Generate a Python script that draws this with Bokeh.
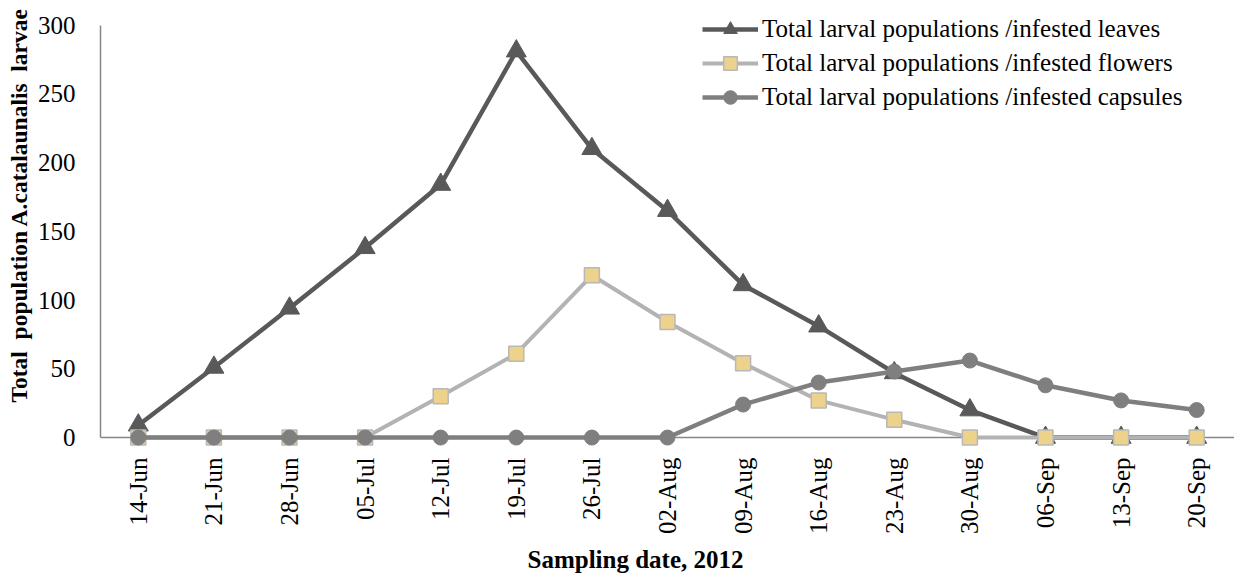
import math
from bokeh.plotting import figure
from bokeh.models import Range1d, FixedTicker, Legend, LegendItem, Span, Title
from bokeh.embed import file_html
from bokeh.resources import INLINE

# ---- data ----
dates = ["14-Jun", "21-Jun", "28-Jun", "05-Jul", "12-Jul", "19-Jul", "26-Jul",
         "02-Aug", "09-Aug", "16-Aug", "23-Aug", "30-Aug", "06-Sep", "13-Sep", "20-Sep"]
leaves = [9, 51, 94, 138, 184, 281, 210, 165, 111, 81, 47, 20, 0, 0, 0]
flowers = [0, 0, 0, 0, 30, 61, 118, 84, 54, 27, 13, 0, 0, 0, 0]
capsules = [0, 0, 0, 0, 0, 0, 0, 0, 24, 40, 48, 56, 38, 27, 20]
yticks = [0, 50, 100, 150, 200, 250, 300]
series_names = ["Total larval populations /infested leaves",
                "Total larval populations /infested flowers",
                "Total larval populations /infested capsules"]
y_title = "Total \u00a0population A.catalaunalis \u00a0larvae"
x_title = "Sampling date, 2012"
xs = list(range(len(dates)))

FONT = "Liberation Serif"
AXIS_GREY = "#868686"

p = figure(frame_width=1134, frame_height=438,
           x_range=Range1d(-0.5, 14.5), y_range=Range1d(-6.5, 312),
           output_backend="svg", toolbar_location=None,
           min_border_left=100, min_border_right=0,
           min_border_top=8, min_border_bottom=133)
p.xgrid.visible = False
p.ygrid.visible = False
p.outline_line_color = None
p.background_fill_color = "white"
p.border_fill_color = "white"

# y axis
ya = p.yaxis[0]
ya.ticker = FixedTicker(ticks=yticks)
ya.bounds = (0, 300)
ya.axis_line_color = AXIS_GREY
ya.axis_line_width = 1.5
ya.major_tick_line_color = None
ya.minor_tick_line_color = None
ya.major_tick_out = 0
ya.major_tick_in = 0
ya.minor_tick_out = 0
ya.major_label_text_font = FONT
ya.major_label_text_font_size = "25px"
ya.major_label_text_color = "black"
ya.major_label_standoff = 25

# x axis
xa = p.xaxis[0]
xa.ticker = FixedTicker(ticks=xs)
xa.major_label_overrides = {i: d for i, d in zip(xs, dates)}
xa.major_label_orientation = math.pi / 2
xa.axis_line_color = None
xa.major_tick_line_color = None
xa.minor_tick_line_color = None
xa.major_tick_out = 0
xa.major_tick_in = 0
xa.minor_tick_out = 0
xa.major_label_text_font = FONT
xa.major_label_text_font_size = "25px"
xa.major_label_text_color = "black"
xa.major_label_standoff = 11

zero_line = Span(location=0, dimension="width", line_color=AXIS_GREY,
                 line_width=1.5, level="underlay")
p.add_layout(zero_line)

# series
l1 = p.line(xs, leaves, line_color="#595959", line_width=4.5)
s1 = p.scatter(xs, leaves, marker="triangle", size=20,
               fill_color="#595959", line_color="#595959")
l2 = p.line(xs, flowers, line_color="#b3b3b3", line_width=4)
s2 = p.scatter(xs, flowers, marker="square", size=15,
               fill_color="#edd28c", line_color="#b8b8b8", line_width=1.5)
l3 = p.line(xs, capsules, line_color="#7f7f7f", line_width=4.5)
s3 = p.scatter(xs, capsules, marker="circle", size=15,
               fill_color="#7f7f7f", line_color="#7f7f7f")

legend = Legend(items=[
    LegendItem(label=series_names[0], renderers=[l1, s1]),
    LegendItem(label=series_names[1], renderers=[l2, s2]),
    LegendItem(label=series_names[2], renderers=[l3, s3]),
], location=(602, 332))
legend.border_line_color = None
legend.background_fill_alpha = 0
legend.padding = 0
legend.margin = 0
legend.spacing = 0
legend.glyph_width = 56
legend.glyph_height = 34
legend.label_height = 34
legend.label_standoff = 4
legend.label_text_font = FONT
legend.label_text_font_size = "25px"
legend.label_text_color = "black"
p.add_layout(legend)

yt = Title(text=y_title, align="left", offset=44, vertical_align="middle",
           text_font=FONT, text_font_style="bold", text_font_size="23.5px",
           text_color="black", standoff=4)
p.add_layout(yt, "left")

xt = Title(text=x_title, align="left", offset=427,
           text_font=FONT, text_font_style="bold", text_font_size="25px",
           text_color="black", standoff=14)
p.add_layout(xt, "below")

open("out.html", "w").write(file_html(p, INLINE))
